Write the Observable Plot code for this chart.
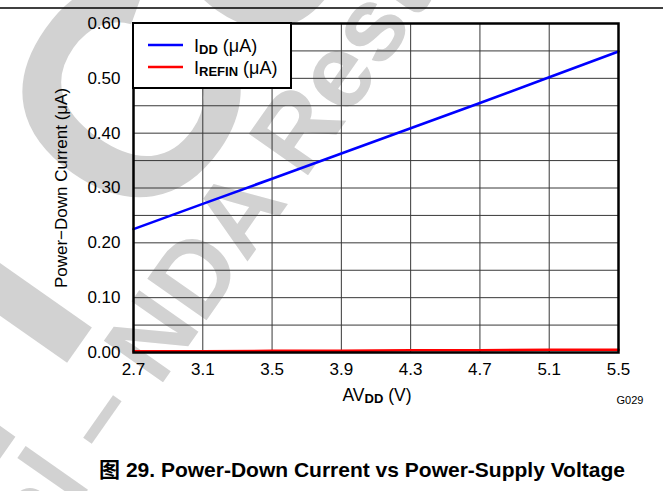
<!DOCTYPE html>
<html><head><meta charset="utf-8">
<script src="https://cdn.jsdelivr.net/npm/d3@7"></script>
<script src="https://cdn.jsdelivr.net/npm/@observablehq/plot@0.6"></script>
<style>
body{margin:0;background:#fff;}
#wrap{position:relative;width:663px;height:491px;overflow:hidden;font-family:"Liberation Sans",Arial,sans-serif;}
#wrap > svg, #chart{position:absolute;left:0;top:0;}
</style></head><body>
<div id="wrap">
<svg id="wm" width="663" height="491">
  <g fill="#d2d2d2" font-family="Liberation Sans, Arial, sans-serif" font-weight="bold">
    <g transform="translate(159,388) rotate(-55)">
      <text x="0" y="0" font-size="105">NDA Restrictions</text>
      <text x="-29" y="0" text-anchor="end" font-size="105">Confidential –</text>
    </g>
    <g transform="translate(151,243) rotate(-55)">
      <text x="0" y="0" font-size="300">Confidential</text>
      <text x="-83" y="0" text-anchor="end" font-size="300">TI</text>
    </g>
  </g>
</svg>
<div id="chart"></div>
<svg id="annot" width="663" height="491" font-family="Liberation Sans, Arial, sans-serif"></svg>
</div>
<script>
// ---- data ----
const voltage = [2.7, 3.1, 3.5, 3.9, 4.3, 4.7, 5.1, 5.5];
const iddValues = [0.225, 0.271, 0.317, 0.363, 0.409, 0.455, 0.502, 0.549];
const irefinValues = [0.002, 0.002, 0.003, 0.003, 0.004, 0.004, 0.005, 0.005];
const seriesNames = ["IDD", "IREFIN"];
const seriesColors = ["#0000ff", "#ff0000"];
const xTicks = [2.7, 3.1, 3.5, 3.9, 4.3, 4.7, 5.1, 5.5];
const yTicks = [0, 0.1, 0.2, 0.3, 0.4, 0.5, 0.6];
const yGrid = [0, 0.05, 0.1, 0.15, 0.2, 0.25, 0.3, 0.35, 0.4, 0.45, 0.5, 0.55, 0.6];
const titleText = "图 29. Power-Down Current vs Power-Supply Voltage";
const yLabel = "Power\u2212Down Current (\u03bcA)";

const rows = voltage.flatMap((v, i) => [
  {v, value: iddValues[i], series: seriesNames[0]},
  {v, value: irefinValues[i], series: seriesNames[1]}
]);

const plot = Plot.plot({
  width: 663, height: 491,
  marginLeft: 133, marginRight: 45, marginTop: 23, marginBottom: 139,
  style: {background: "transparent", fontFamily: "Liberation Sans, Arial, sans-serif", fontSize: "17px", color: "#000"},
  x: {domain: [2.7, 5.5], ticks: xTicks, tickFormat: d3.format(".1f"), tickSize: 0, tickPadding: 10, label: null},
  y: {domain: [0, 0.6], ticks: yTicks, tickFormat: d3.format(".2f"), tickSize: 0, tickPadding: 13, label: null},
  color: {domain: seriesNames, range: seriesColors},
  marks: [
    Plot.ruleY(yGrid, {stroke: "#383838", strokeWidth: 1}),
    Plot.ruleX(xTicks, {stroke: "#383838", strokeWidth: 1}),
    Plot.line(rows, {x: "v", y: "value", stroke: "series", strokeWidth: 2.6}),
    Plot.frame({stroke: "#000", strokeWidth: 2.5})
  ]
});
document.getElementById("chart").appendChild(plot);

// ---- annotations ----
const a = d3.select("#annot");
a.append("line").attr("x1", 0).attr("x2", 663).attr("y1", 8).attr("y2", 8).attr("stroke", "#000").attr("stroke-width", 1.5);
// legend
const lg = a.append("g");
lg.append("rect").attr("x", 133).attr("y", 23).attr("width", 158).attr("height", 65)
  .attr("fill", "#fff").attr("stroke", "#000").attr("stroke-width", 2);
const subs = ["DD", "REFIN"];
seriesNames.forEach((s, i) => {
  const yy = 45 + i * 22;
  lg.append("line").attr("x1", 148).attr("x2", 183).attr("y1", yy).attr("y2", yy)
    .attr("stroke", seriesColors[i]).attr("stroke-width", 2.5);
  const t = lg.append("text").attr("x", 194).attr("y", yy + 7).attr("font-size", 18);
  t.append("tspan").text("I");
  t.append("tspan").attr("font-size", 13).attr("font-weight", "bold").attr("dy", 2).text(subs[i]);
  t.append("tspan").attr("dy", -2).text(" (\u03bcA)");
});
// x label
const xl = a.append("text").attr("x", 377).attr("y", 401).attr("text-anchor", "middle").attr("font-size", 17.5);
xl.append("tspan").text("AV");
xl.append("tspan").attr("font-size", 13).attr("font-weight", "bold").attr("dy", 2).text("DD");
xl.append("tspan").attr("dy", -2).text(" (V)");
// y label
a.append("text").attr("transform", "translate(67,188) rotate(-90)").attr("text-anchor", "middle")
  .attr("font-size", 17).text(yLabel);
// G029
a.append("text").attr("x", 630).attr("y", 404).attr("text-anchor", "middle").attr("font-size", 11).text("G029");
// title
a.append("text").attr("x", 362).attr("y", 477).attr("text-anchor", "middle").attr("font-size", 21)
  .attr("font-weight", "bold").attr("font-family", "Liberation Sans, Arial, 'Noto Sans CJK SC', sans-serif").text(titleText);
</script>
</body></html>
